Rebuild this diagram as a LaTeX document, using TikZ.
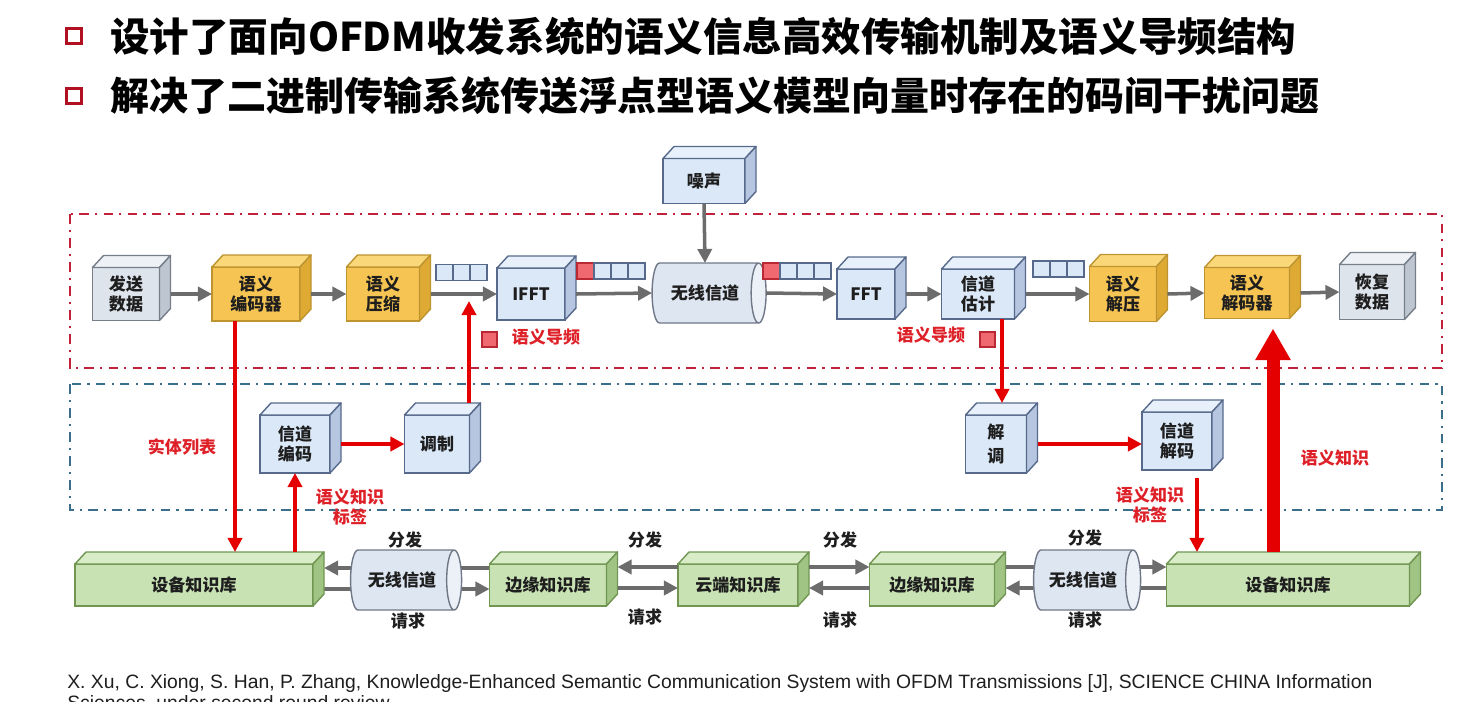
\documentclass[tikz,border=0pt]{standalone}
\usepackage{fontspec}
\setmainfont{Noto Sans CJK SC}
\newfontfamily\citefont{Liberation Sans}
\usepackage{tikz}
\usetikzlibrary{shapes.geometric, arrows.meta, positioning, backgrounds, calc}
\definecolor{gryF}{RGB}{222,228,236}
\definecolor{gryT}{RGB}{238,241,245}
\definecolor{gryS}{RGB}{190,198,210}
\definecolor{gryD}{RGB}{118,126,138}
\definecolor{yelF}{RGB}{246,196,82}
\definecolor{yelT}{RGB}{250,216,122}
\definecolor{yelS}{RGB}{222,170,52}
\definecolor{yelD}{RGB}{190,148,48}
\definecolor{bluF}{RGB}{218,232,247}
\definecolor{bluT}{RGB}{232,241,251}
\definecolor{bluS}{RGB}{182,198,224}
\definecolor{bluD}{RGB}{88,106,140}
\definecolor{grnF}{RGB}{200,226,180}
\definecolor{grnT}{RGB}{216,236,200}
\definecolor{grnS}{RGB}{160,196,132}
\definecolor{grnD}{RGB}{112,150,82}
\definecolor{cylF}{RGB}{222,230,242}
\definecolor{cylE}{RGB}{236,241,248}
\definecolor{cylD}{RGB}{112,120,135}
\definecolor{pilF}{RGB}{240,104,112}
\definecolor{pilD}{RGB}{186,40,52}
\definecolor{arrG}{RGB}{108,108,108}
\definecolor{arrR}{RGB}{228,0,0}
\definecolor{lblR}{RGB}{222,32,40}
\definecolor{frmR}{RGB}{192,34,60}
\definecolor{frmB}{RGB}{58,110,138}
\definecolor{bulR}{RGB}{176,16,32}
\definecolor{txtK}{RGB}{30,30,30}

\begin{document}
\begin{tikzpicture}[x=0.02cm, y=-0.02cm,
  box/.style={draw, line width=0.8pt, inner sep=0pt, outer sep=0pt, align=center,
              font=\bfseries\fontsize{9.7}{11.5}\selectfont, text=txtK},
  dims/.style 2 args={minimum width=#1*0.02cm, minimum height=#2*0.02cm},
  grybox/.style={box, fill=gryF, draw=gryD},
  yelbox/.style={box, fill=yelF, draw=yelD},
  blubox/.style={box, fill=bluF, draw=bluD},
  grnbox/.style={box, fill=grnF, draw=grnD},
  chan/.style={cylinder, draw=cylD, line width=0.8pt, shape aspect=0.9,
               cylinder uses custom fill, cylinder body fill=cylF, cylinder end fill=cylE,
               inner sep=0pt, outer sep=0pt, text=txtK,
               font=\bfseries\fontsize{9.7}{11.5}\selectfont},
  cell/.style={draw=bluD, fill=bluF, line width=0.7pt, inner sep=0pt,
               minimum width=17*0.02cm, minimum height=16*0.02cm},
  pilot/.style={cell, draw=pilD, fill=pilF},
  garrow/.style={-{Triangle[length=8pt,width=8pt]}, line width=2pt, draw=arrG},
  rarrow/.style={-{Triangle[length=8pt,width=8pt]}, line width=2pt, draw=arrR},
  lbl/.style={font=\bfseries\fontsize{9.7}{11.5}\selectfont, align=center, inner sep=0pt, text=txtK},
  rlbl/.style={lbl, text=lblR},
  frame/.style={line width=1.5pt, dash pattern=on 5.5pt off 3.5pt on 1.2pt off 3.5pt},
  title/.style={anchor=west, inner sep=0pt, font=\bfseries\fontsize{22.5}{27}\selectfont},
  cite/.style={anchor=base west, inner sep=0pt, font=\citefont\fontsize{11}{13}\selectfont, text=txtK},
]
\useasboundingbox (0,0) rectangle (1477,701);

% Headline
\node[draw=bulR, line width=2.2pt, minimum size=15*0.02cm, inner sep=0pt] (b1) at (74,36) {};
\node[draw=bulR, line width=2.2pt, minimum size=15*0.02cm, inner sep=0pt] (b2) at (74,96) {};
\node[title] (t1) at (110,36) {设计了面向OFDM收发系统的语义信息高效传输机制及语义导频结构};
\node[title, font=\bfseries\fontsize{22.2}{27}\selectfont] (t2) at (110,96) {解决了二进制传输系统传送浮点型语义模型向量时存在的码间干扰问题};

% Frames
\draw[frame, frmR] (70,214) rectangle (1442,368);
\draw[frame, frmB] (70,384) rectangle (1442,510);

% Transmission chain
\node[grybox, dims={67}{53}] (send) at (126,294) {发送\\数据};
\node[yelbox, dims={88}{54}] (enc) at (256,294) {语义\\编码器};
\node[yelbox, dims={73}{54}] (cmp) at (383,294) {语义\\压缩};
\node[blubox, dims={68}{52}] (ifft) at (531,294) {IFFT};
\node[chan, dims={60}{114}] (ch) at (705,293) {无线信道};
\node[blubox, dims={58}{50}] (fft) at (866,294) {FFT};
\node[blubox, dims={73}{50}] (est) at (978,294) {信道\\估计};
\node[yelbox, dims={67}{55}] (dcmp) at (1123,294) {语义\\解压};
\node[yelbox, dims={85}{51}] (dec) at (1247,293) {语义\\解码器};
\node[grybox, dims={65}{55}] (recv) at (1372,292) {恢复\\数据};
\node[blubox, dims={82}{45}] (noise) at (704,181) {噪声};

% Channel coding row
\node[blubox, dims={70}{58}] (cenc) at (295,444) {信道\\编码};
\node[blubox, dims={65}{58}] (mod) at (437,444) {调制};
\node[blubox, dims={61}{58}] (demod) at (996,444) {解\\[2pt]调};
\node[blubox, dims={70}{58}] (cdec) at (1177,441) {信道\\解码};

% Knowledge bases
\node[grnbox, dims={238}{42}] (devL) at (194,585) {设备知识库};
\node[chan, dims={60}{111}] (chL) at (402,580) {无线信道};
\node[grnbox, dims={117}{42}] (edgeL) at (548,585) {边缘知识库};
\node[grnbox, dims={120}{42}] (cloud) at (738,585) {云端知识库};
\node[grnbox, dims={125}{42}] (edgeR) at (932,585) {边缘知识库};
\node[chan, dims={60}{107}] (chR) at (1083,580) {无线信道};
\node[grnbox, dims={243}{42}] (devR) at (1288,585) {设备知识库};

% 3D faces
\foreach \n/\c in {send/gry, enc/yel, cmp/yel, ifft/blu, fft/blu, est/blu, dcmp/yel,
                   dec/yel, recv/gry, noise/blu, cenc/blu, mod/blu, demod/blu, cdec/blu,
                   devL/grn, edgeL/grn, cloud/grn, edgeR/grn, devR/grn}{
  \draw[draw=\c D, fill=\c T, line width=0.8pt, line join=round]
    (\n.north west) -- ++(11,-12) -- ([shift={(11,-12)}]\n.north east) -- (\n.north east) -- cycle;
  \draw[draw=\c D, fill=\c S, line width=0.8pt, line join=round]
    (\n.north east) -- ++(11,-12) -- ([shift={(11,-12)}]\n.south east) -- (\n.south east) -- cycle;
}

% Symbol blocks
\foreach \i in {0,1,2} \node[cell] (qa\i) at (444.5+17*\i,272.5) {};
\node[pilot] (qb0) at (585.5,271) {};
\foreach \i in {1,2,3} \node[cell] (qb\i) at (585.5+17*\i,271) {};
\node[pilot] (qc0) at (771.5,271) {};
\foreach \i in {1,2,3} \node[cell] (qc\i) at (771.5+17*\i,271) {};
\foreach \i in {0,1,2} \node[cell] (qd\i) at (1041.5+17*\i,269) {};
\node[pilot, minimum width=15*0.02cm, minimum height=15*0.02cm] (pilL) at (489.5,339.5) {};
\node[pilot, minimum width=15*0.02cm, minimum height=15*0.02cm] (pilR) at (987.5,339.5) {};

% Helper points
\coordinate (devLtop) at ([yshift=0.24cm]devL.north);
\coordinate (devRtop) at ([yshift=0.24cm]devR.north);
\coordinate (demtop) at ([yshift=0.24cm]demod.north);
\coordinate (modtop) at ([yshift=0.24cm]mod.north);
\coordinate (entx) at ([xshift=-0.42cm]enc.south);
\coordinate (pilin) at (469,301);
\coordinate (pilx) at ([xshift=0.48cm]est.south);
\coordinate (kdx) at ([xshift=0.4cm,yshift=-0.16cm]cdec.south);
\coordinate (bigx) at ([xshift=0.52cm,yshift=-0.2cm]dec.south);

% Arrows - main chain
\draw[garrow] ([xshift=0.22cm]send.east) -- (enc.west);
\draw[garrow] ([xshift=0.22cm]enc.east) -- (cmp.west);
\draw[garrow] ([xshift=0.22cm]cmp.east) -- (ifft.west);
\draw[garrow] ([xshift=0.22cm]ifft.east) -- (ch.west);
\draw[garrow] (ch.east) -- (fft.west);
\draw[garrow] ([xshift=0.22cm]fft.east) -- (est.west);
\draw[garrow] ([xshift=0.22cm]est.east) -- (dcmp.west);
\draw[garrow] ([xshift=0.22cm]dcmp.east) -- (dec.west);
\draw[garrow] ([xshift=0.22cm]dec.east) -- (recv.west);
\draw[garrow] (noise.south) -- (ch.north);

% Arrows - knowledge and pilots
\draw[rarrow] (pilin |- modtop) -- (pilin);
\draw[rarrow] (entx) -- (entx |- devLtop);
\draw[rarrow] (cenc.south |- devLtop) -- (cenc.south);
\draw[rarrow] ([xshift=0.22cm]cenc.east) -- (mod.west |- cenc.east);
\draw[rarrow] (pilx) -- (pilx |- demtop);
\draw[rarrow] ([xshift=0.22cm]demod.east) -- (cdec.west |- demod.east);
\draw[rarrow] (kdx) -- (kdx |- devRtop);
\draw[-{Triangle[length=18pt,width=19pt]}, line width=7.4pt, draw=arrR] (bigx |- devRtop) -- (bigx);

% Arrows - distribution and requests
\draw[garrow] ([shift={(0,-18)}]cloud.west) -- ([shift={(11,-18)}]edgeL.east);
\draw[garrow] ([shift={(11,3)}]edgeL.east) -- ([shift={(0,3)}]cloud.west);
\draw[garrow] ([shift={(11,-18)}]cloud.east) -- ([shift={(0,-18)}]edgeR.west);
\draw[garrow] ([shift={(0,3)}]edgeR.west) -- ([shift={(11,3)}]cloud.east);
\begin{scope}[on background layer]
\draw[garrow] ([shift={(0,-17)}]edgeL.west) -- ([shift={(11,-17)}]devL.east);
\draw[garrow] ([shift={(11,4)}]devL.east) -- ([shift={(0,4)}]edgeL.west);
\draw[garrow] ([shift={(11,-18)}]edgeR.east) -- ([shift={(0,-18)}]devR.west);
\draw[garrow] ([shift={(0,3)}]devR.west) -- ([shift={(11,3)}]edgeR.east);
\end{scope}

% Labels
\node[rlbl] (lpL) at (546,337) {语义导频};
\node[rlbl] (lpR) at (931,335) {语义导频};
\node[rlbl] (lent) at (182,447) {实体列表};
\node[rlbl] (lkL) at (350,507) {语义知识\\标签};
\node[rlbl] (lkR) at (1150,505) {语义知识\\标签};
\node[rlbl] (lsk) at (1335,458) {语义知识};
\node[lbl] (d1) at (405,540) {分发};
\node[lbl] (r1) at (408,621) {请求};
\node[lbl] (d2) at (645,540) {分发};
\node[lbl] (r2) at (645,617) {请求};
\node[lbl] (d3) at (840,540) {分发};
\node[lbl] (r3) at (840,620) {请求};
\node[lbl] (d4) at (1085,538) {分发};
\node[lbl] (r4) at (1085,620) {请求};

% Reference
\node[cite] (cit1) at (67,688) {X. Xu, C. Xiong, S. Han, P. Zhang, Knowledge-Enhanced Semantic Communication System with OFDM Transmissions [J], SCIENCE CHINA Information};
\node[cite] (cit2) at (67,709) {Sciences, under second round review};
\end{tikzpicture}
\end{document}
